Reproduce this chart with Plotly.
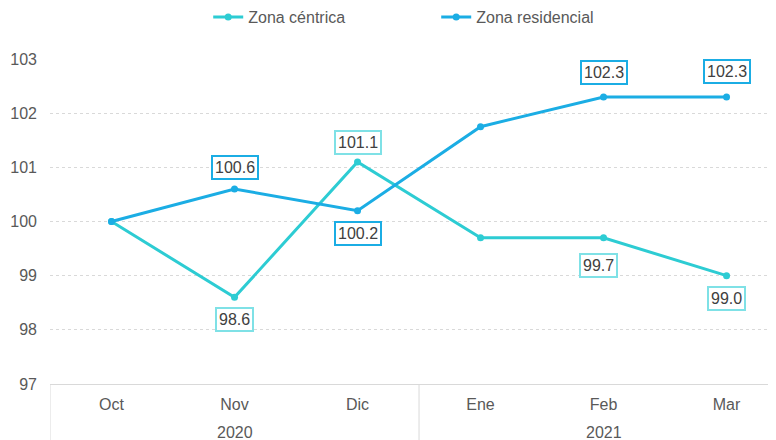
import plotly.graph_objects as go

months = ['Oct', 'Nov', 'Dic', 'Ene', 'Feb', 'Mar']
year_labels = ['2020', '2021']
year_centers = [1, 4]
year_bounds = [-0.5, 2.5]
centrica = [100.0, 98.6, 101.1, 99.7, 99.7, 99.0]
residencial = [100.0, 100.6, 100.2, 101.75, 102.3, 102.3]

# which points carry a value box, and the vertical offset (px) of the box
centrica_labels = {1: -22, 2: 19, 4: -28, 5: -23}
residencial_labels = {1: 22, 2: -23, 4: 24, 5: 25}

C_CEN = '#2DCCD3'
C_RES = '#1BADE4'
C_CEN_BOX = '#7FE1E6'
TXT = '#404040'
TICK = '#595959'
GRID = '#D9D9D9'
FONT = 'Liberation Sans, Arial, sans-serif'

# page body adds an 8px offset, margins compensate for it
PLOT_H = 440 - 51 - 64

fig = go.Figure()
fig.add_trace(go.Scatter(x=months, y=centrica, name='Zona céntrica',
                         mode='lines+markers', line=dict(color=C_CEN, width=3),
                         marker=dict(size=7, color=C_CEN)))
fig.add_trace(go.Scatter(x=months, y=residencial, name='Zona residencial',
                         mode='lines+markers', line=dict(color=C_RES, width=3),
                         marker=dict(size=7, color=C_RES)))

for vals, labels, box in [(centrica, centrica_labels, C_CEN_BOX),
                          (residencial, residencial_labels, C_RES)]:
    for i, dy in labels.items():
        fig.add_annotation(x=months[i], y=vals[i], text=f'{vals[i]:.1f}', showarrow=False,
                           yshift=dy, xshift=-5 if (vals is centrica and i == 4) else 0,
                           font=dict(size=16, color=TXT, family=FONT),
                           bgcolor='white', bordercolor=box, borderwidth=2, borderpad=2)

# year row under the month labels
for lab, xc in zip(year_labels, year_centers):
    fig.add_annotation(x=xc, xref='x', y=-48 / PLOT_H, yref='paper', text=lab,
                       showarrow=False, yanchor='middle',
                       font=dict(size=16, color=TICK, family=FONT))
for xb in year_bounds:
    fig.add_shape(type='line', xref='x', yref='paper', x0=xb, x1=xb, y0=0, y1=-0.3,
                  line=dict(color=GRID, width=1))

fig.update_layout(
    width=776, height=440,
    margin=dict(l=42, r=0, t=51, b=64, autoexpand=False),
    plot_bgcolor='white', paper_bgcolor='white',
    font=dict(family=FONT, size=16, color=TICK),
    showlegend=True,
    legend=dict(orientation='h', xref='container', x=0.258, xanchor='left',
                y=1 + 59 / PLOT_H, yanchor='top',
                font=dict(size=16, color=TICK, family=FONT),
                itemwidth=30, entrywidth=183, entrywidthmode='pixels'),
)
fig.update_xaxes(type='category', range=[-0.5, 5.467], showline=True,
                 linecolor=GRID, linewidth=1, showgrid=False, ticks='',
                 automargin=False, ticklabelstandoff=6,
                 tickfont=dict(size=16, color=TICK, family=FONT))
fig.update_yaxes(range=[97, 103], dtick=1, showgrid=True, gridcolor=GRID,
                 griddash='dot', gridwidth=1, zeroline=False, showline=False,
                 ticks='', automargin=False, ticklabelstandoff=12,
                 tickfont=dict(size=16, color=TICK, family=FONT))

fig.write_html('out.html')
